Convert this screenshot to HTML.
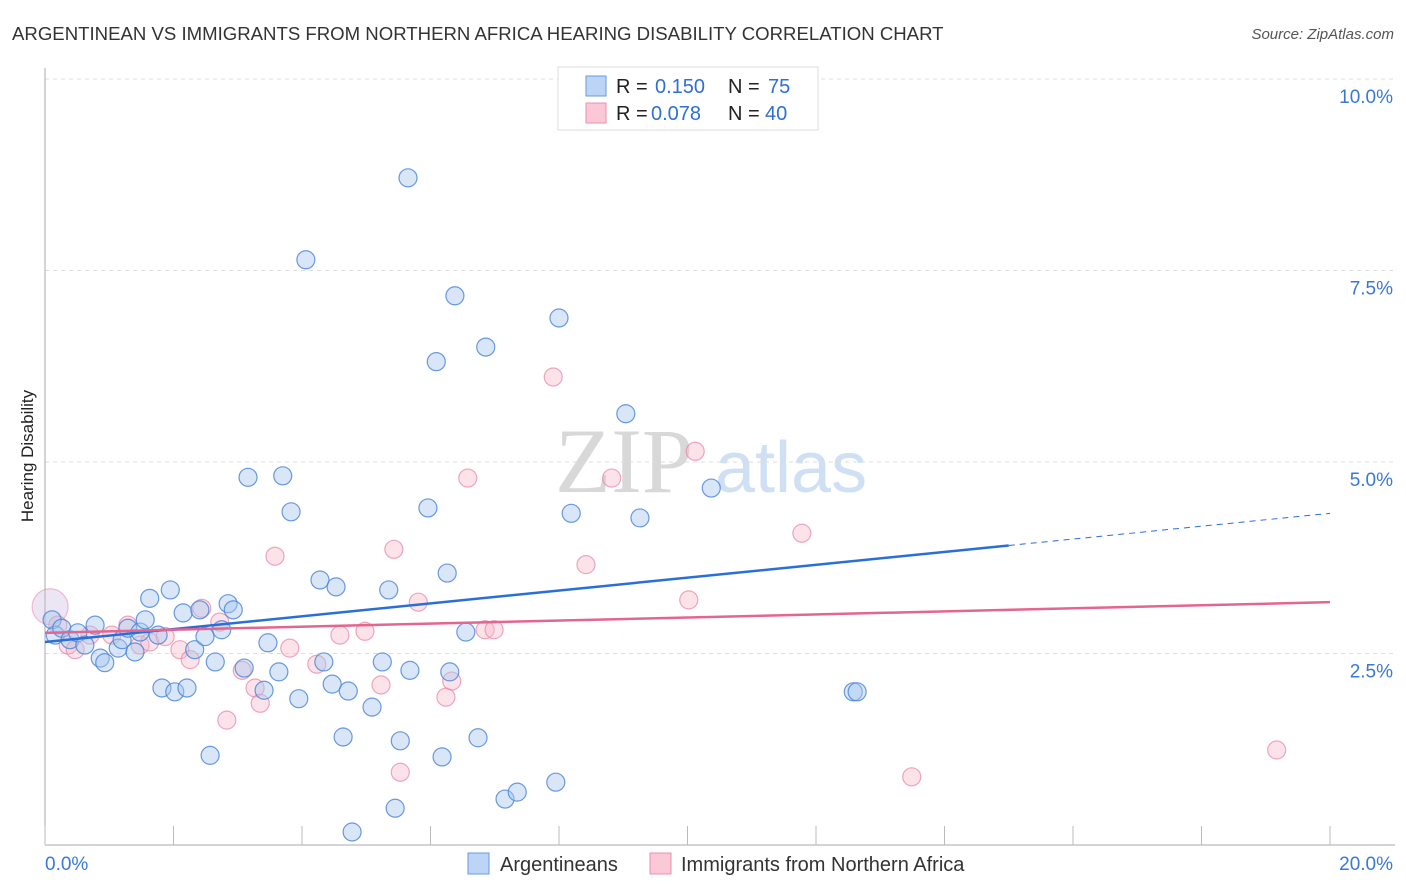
<!DOCTYPE html>
<html><head><meta charset="utf-8"><style>
body{margin:0;background:#fff;font-family:"Liberation Sans",sans-serif}
svg{display:block}
</style></head><body>
<svg id="c" width="1406" height="892">
<text x="12" y="40" font-size="18.6" fill="#333">ARGENTINEAN VS IMMIGRANTS FROM NORTHERN AFRICA HEARING DISABILITY CORRELATION CHART</text>
<text x="1394" y="39" font-size="15" fill="#555" font-style="italic" text-anchor="end">Source: ZipAtlas.com</text>
<text x="555" y="492" font-size="92" fill="#d8d8d8" font-family="Liberation Serif,serif">ZIP</text>
<text x="715" y="492" font-size="72" fill="#cfe0f5">atlas</text>
<g id="grid"></g>
<g id="axes"></g>
<g id="marks"></g>
<text transform="translate(33,456) rotate(-90)" font-size="17" fill="#222" text-anchor="middle">Hearing Disability</text>
<g>
<rect x="558" y="67" width="260" height="63" fill="#fff" stroke="#ddd"/>
<rect x="586" y="76" width="20" height="20" fill="#bcd4f5" stroke="#6a9ae0"/>
<text x="616" y="93" font-size="20" fill="#222">R =</text>
<text x="655" y="93" font-size="20" fill="#2f6fd6">0.150</text>
<text x="728" y="93" font-size="20" fill="#222">N =</text>
<text x="768" y="93" font-size="20" fill="#2f6fd6">75</text>
<rect x="586" y="103" width="20" height="20" fill="#fbc8d7" stroke="#e890ac"/>
<text x="616" y="120" font-size="20" fill="#222">R =</text>
<text x="651" y="120" font-size="20" fill="#2f6fd6">0.078</text>
<text x="728" y="120" font-size="20" fill="#222">N =</text>
<text x="765" y="120" font-size="20" fill="#2f6fd6">40</text>
</g>
<g>
<rect x="468" y="853" width="21" height="21" fill="#bcd4f5" stroke="#6a9ae0"/>
<text x="500" y="871" font-size="20" fill="#333">Argentineans</text>
<rect x="650" y="853" width="21" height="21" fill="#fbc8d7" stroke="#e890ac"/>
<text x="681" y="871" font-size="20" fill="#333">Immigrants from Northern Africa</text>
</g>
</svg>
<script>
const blueX=[0.11,0.16,0.26,0.39,0.51,0.62,0.78,0.86,0.93,1.14,1.20,1.29,1.40,1.48,1.56,1.63,1.76,1.95,1.82,2.02,2.15,2.21,2.33,2.41,2.49,2.57,2.65,2.75,2.85,2.93,3.10,3.16,3.41,3.47,3.64,3.70,3.83,3.95,4.06,4.28,4.34,4.47,4.53,4.64,4.72,4.78,5.09,5.25,5.35,5.45,5.53,5.65,5.68,5.96,6.09,6.18,6.26,6.30,6.38,6.55,6.74,6.86,7.16,7.35,7.95,8.00,8.19,9.04,9.26,10.37,12.58,12.64];
const blueY=[2.94,2.74,2.83,2.68,2.77,2.61,2.87,2.44,2.38,2.57,2.68,2.83,2.52,2.78,2.94,3.22,2.74,3.33,2.05,2.00,3.03,2.05,2.55,3.07,2.72,1.17,2.39,2.81,3.15,3.07,2.31,4.80,2.02,2.64,2.26,4.82,4.35,1.91,7.64,3.46,2.39,2.10,3.37,1.41,2.01,0.17,1.80,2.39,3.33,0.48,1.36,8.71,2.28,4.40,6.31,1.15,3.55,2.26,7.17,2.78,1.40,6.50,0.60,0.69,0.82,6.88,4.33,5.63,4.27,4.66,2.00,2.00];
const pinkX=[0.20,0.36,0.47,0.70,1.04,1.29,1.48,1.63,1.87,2.10,2.26,2.44,2.72,2.83,3.07,3.27,3.35,3.58,3.81,4.23,4.59,4.98,5.23,5.43,5.53,5.81,6.24,6.33,6.58,6.85,6.99,7.91,8.42,8.82,10.12,10.02,11.78,13.49,19.17];
const pinkY=[2.87,2.61,2.55,2.74,2.74,2.87,2.61,2.65,2.72,2.55,2.42,3.09,2.91,1.63,2.28,2.05,1.85,3.77,2.57,2.36,2.74,2.79,2.09,3.86,0.95,3.17,1.93,2.14,4.79,2.81,2.81,6.11,3.66,4.79,5.14,3.20,4.07,0.89,1.24];
const bigX=[0.08], bigY=[3.11];
const yTicks=[2.5,5.0,7.5,10.0];
const yTickLabels=["2.5%","5.0%","7.5%","10.0%"];
const blueLine=[2.65,4.33], pinkLine=[2.77,3.17], blueSolidEnd=15.0;
const NS="http://www.w3.org/2000/svg";
const X=v=>45+v*64.25, Y=v=>845-v*76.6;
function mk(t,a,p){const e=document.createElementNS(NS,t);for(const k in a)e.setAttribute(k,a[k]);p.appendChild(e);return e;}
const grid=document.getElementById('grid'),axes=document.getElementById('axes'),marks=document.getElementById('marks');
yTicks.forEach((t,i)=>{
 const l=mk('line',{x1:45,x2:1395,y1:Y(t),y2:Y(t),stroke:'#ddd','stroke-dasharray':'4,4'},grid);
 
 
 const tx=mk('text',{x:1393,y:Y(t)+24,'font-size':19,fill:'#3a78d8','text-anchor':'end'},axes);
 tx.textContent=yTickLabels[i];
 
 
});
mk('line',{x1:45,x2:45,y1:68,y2:845,stroke:'#aaa'},axes);
mk('line',{x1:45,x2:1395,y1:845,y2:845,stroke:'#aaa'},axes);
for(let i=0;i<=10;i++){mk('line',{x1:X(i*2),x2:X(i*2),y1:826,y2:845,stroke:'#bbb'},axes);}
let t0=mk('text',{x:45,y:870,'font-size':19,fill:'#3a78d8'},axes);t0.textContent='0.0%';


let t1=mk('text',{x:1393,y:870,'font-size':19,fill:'#3a78d8','text-anchor':'end'},axes);t1.textContent='20.0%';


function dots(xs,ys,fill,stroke,name,r){xs.forEach((x,i)=>{const c=mk('circle',{cx:X(x),cy:Y(ys[i]),r:r,fill:fill,stroke:stroke,'stroke-width':1.2},marks);
 
 });}
dots(bigX,bigY,'rgba(200,180,220,0.35)','rgba(232,130,165,0.5)','big-point',18);
dots(pinkX,pinkY,'rgba(247,184,203,0.4)','rgba(232,130,165,0.7)','pink-point',9);
dots(blueX,blueY,'rgba(169,200,240,0.45)','rgba(70,130,215,0.8)','blue-point',9);
const bm=blueLine[0]+(blueLine[1]-blueLine[0])*blueSolidEnd/20;
let bl=mk('line',{x1:X(0),y1:Y(blueLine[0]),x2:X(blueSolidEnd),y2:Y(bm),stroke:'#2a6fd8','stroke-width':2.5},marks);


mk('line',{x1:X(blueSolidEnd),y1:Y(bm),x2:X(20),y2:Y(blueLine[1]),stroke:'#2a6fd8','stroke-width':1,'stroke-dasharray':'6,5'},marks);
let pl=mk('line',{x1:X(0),y1:Y(pinkLine[0]),x2:X(20),y2:Y(pinkLine[1]),stroke:'#e36590','stroke-width':2.5},marks);


</script>
</body></html>
